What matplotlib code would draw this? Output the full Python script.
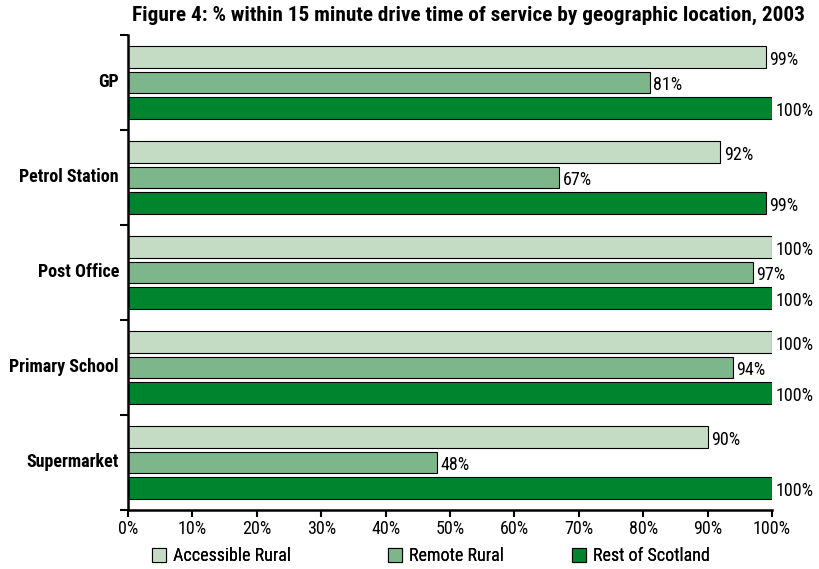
import matplotlib.pyplot as plt
import numpy as np
from matplotlib.patches import Patch

plt.rcParams['font.family'] = ['Roboto Condensed', 'DejaVu Sans']

services = ['GP', 'Petrol Station', 'Post Office', 'Primary School', 'Supermarket']
accessible_rural = [99, 92, 100, 100, 90]
remote_rural = [81, 67, 97, 94, 48]
rest_of_scotland = [100, 99, 100, 100, 100]

series_names = ['Accessible Rural', 'Remote Rural', 'Rest of Scotland']
series_colors = ['#c4dcc4', '#7db68a', '#00852f']
x_ticks = np.arange(0, 101, 10)

fig = plt.figure(figsize=(8.19, 5.69), dpi=100)
ax = fig.add_axes([0.1563, 0.1037, 0.7863, 0.8348])

y = np.arange(len(services))
h = 0.23
step = 0.27
for i, (vals, col) in enumerate(zip([accessible_rural, remote_rural, rest_of_scotland], series_colors)):
    pos = y + (i - 1) * step
    ax.barh(pos, vals, height=h, color=col, edgecolor='black', linewidth=0.8)
    for p, v in zip(pos, vals):
        ax.text(v + 0.5, p + 0.03, f'{v}%', va='center', ha='left', fontsize=13)

ax.set_xlim(0, 100)
ax.set_ylim(len(services) - 0.5, -0.5)
ax.set_xticks(x_ticks)
ax.set_xticklabels([f'{t}%' for t in x_ticks], fontsize=13)

# category names at band centres, tick marks at band boundaries
ax.set_yticks(np.arange(len(services) + 1) - 0.5)
ax.set_yticklabels([])
ax.tick_params(axis='y', length=6, width=1.5, direction='out')
ax.tick_params(axis='x', length=5, width=1.5, direction='out', pad=2)
for yi, name in zip(y, services):
    ax.text(-1.4, yi, name, ha='right', va='center', fontsize=13, fontweight='bold')

for side in ['top', 'right']:
    ax.spines[side].set_visible(False)
for side in ['left', 'bottom']:
    ax.spines[side].set_linewidth(1.8)

fig.text(0.572, 0.973, 'Figure 4: % within 15 minute drive time of service by geographic location, 2003',
         ha='center', va='center', fontsize=15.3, fontweight='bold')

# one legend entry per series, spaced along the bottom
legend_x = [0.1856, 0.4737, 0.6984]
for name, col, lx in zip(series_names, series_colors, legend_x):
    lg = fig.legend([Patch(facecolor=col, edgecolor='black', linewidth=0.8)], [name],
                    loc='center left', bbox_to_anchor=(lx, 0.022), frameon=False,
                    fontsize=13, handlelength=0.8, handleheight=0.8, handletextpad=0.35,
                    borderpad=0, borderaxespad=0)
    fig.add_artist(lg)

fig.savefig('out.png', dpi=100)
